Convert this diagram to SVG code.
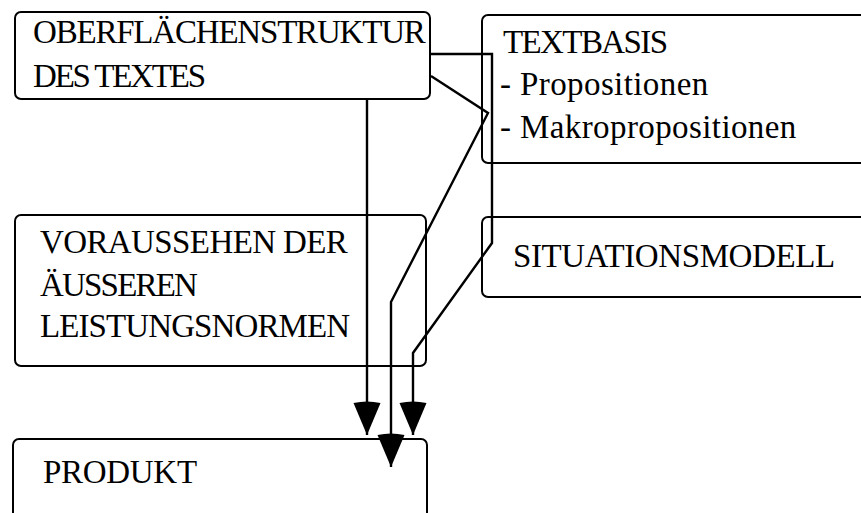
<svg xmlns="http://www.w3.org/2000/svg" width="861" height="513" viewBox="0 0 861 513">
<style>
.box{fill:#fff;stroke:#000;stroke-width:2}
.c{fill:none;stroke:#000;stroke-width:2.4;stroke-linejoin:miter}
</style>
<defs>
<marker id="ah" viewBox="-36 -15 38 30" refX="0" refY="0" markerWidth="38" markerHeight="30" markerUnits="userSpaceOnUse" orient="auto">
<path d="M-32,-13.5 Q-35,0 -32,13.5 L0,0 Z" fill="#000"/>
</marker>
</defs>
<rect width="861" height="513" fill="#fff"/>
<g font-family="Liberation Serif, serif" font-size="33" fill="#000">
<g id="n-oberflaeche">
<rect class="box" x="15" y="12" width="415" height="87" rx="6"/>
<text x="33" y="43" letter-spacing="-1.2">OBERFLÄCHENSTRUKTUR</text>
<text x="33" y="87" letter-spacing="-2.2">DES TEXTES</text>
</g>
<g id="n-textbasis">
<rect class="box" x="482" y="15" width="400" height="148" rx="6"/>
<text x="503" y="53" letter-spacing="-1.6">TEXTBASIS</text>
<text x="500" y="95" letter-spacing="0.4">- Propositionen</text>
<text x="500" y="138" letter-spacing="0.4">- Makropropositionen</text>
</g>
<g id="n-voraussehen">
<rect class="box" x="15" y="215" width="411" height="151" rx="6"/>
<text x="40" y="253" letter-spacing="-0.6">VORAUSSEHEN DER</text>
<text x="40" y="296" letter-spacing="-1.8">ÄUSSEREN</text>
<text x="40" y="337" letter-spacing="-0.9">LEISTUNGSNORMEN</text>
</g>
<g id="n-situationsmodell">
<rect class="box" x="482" y="217" width="400" height="80" rx="6"/>
<text x="513" y="267" letter-spacing="-0.4">SITUATIONSMODELL</text>
</g>
<g id="n-produkt">
<rect class="box" x="13" y="439" width="414" height="100" rx="6"/>
<text x="43" y="483" letter-spacing="-0.3">PRODUKT</text>
</g>
</g>
<g id="connectors">
<path class="c" d="M367 99 L367 435" marker-end="url(#ah)"/>
<path class="c" d="M431 76 L488 113 L391 302 L391 467" marker-end="url(#ah)"/>
<path class="c" d="M430 54 L492 54 L492 243 L413 353 L413 435" marker-end="url(#ah)"/>
</g>
</svg>
